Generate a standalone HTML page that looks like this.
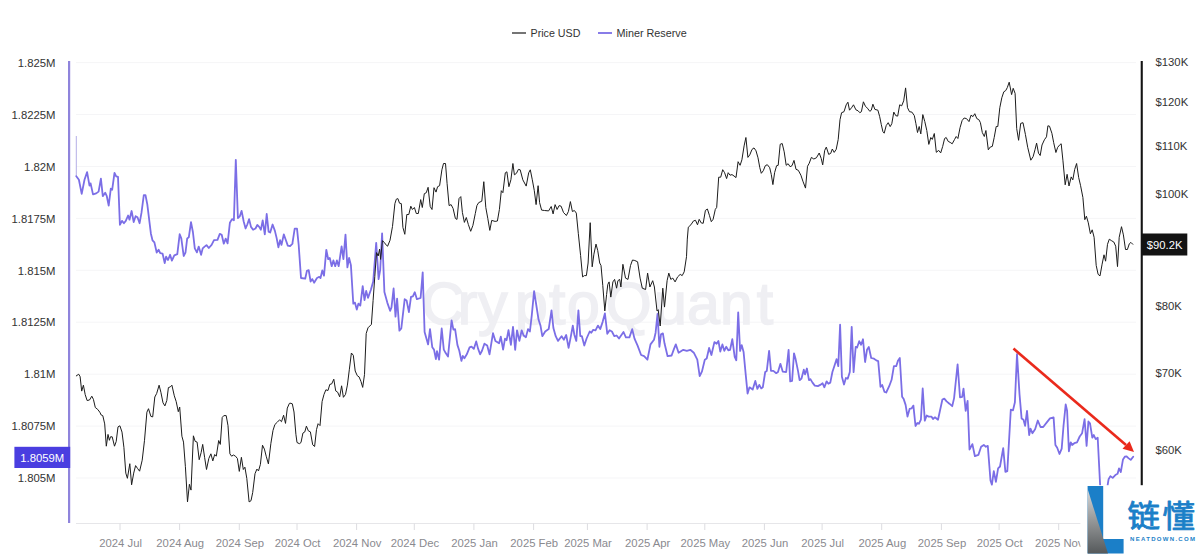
<!DOCTYPE html>
<html lang="en"><head><meta charset="utf-8"><title>Miner Reserve vs Price USD</title>
<style>html,body{margin:0;padding:0;background:#fff;}body{width:1200px;height:555px;overflow:hidden;font-family:"Liberation Sans","Noto Sans CJK SC",sans-serif;}svg{display:block;}</style>
</head><body>
<svg width="1200" height="555" viewBox="0 0 1200 555" font-family="'Liberation Sans', Arial, sans-serif">
<rect width="1200" height="555" fill="#fff"/>
<line x1="76" x2="1136" y1="62.6" y2="62.6" stroke="#f5f5f7" stroke-width="1"/>
<line x1="76" x2="1136" y1="114.5" y2="114.5" stroke="#f5f5f7" stroke-width="1"/>
<line x1="76" x2="1136" y1="166.5" y2="166.5" stroke="#f5f5f7" stroke-width="1"/>
<line x1="76" x2="1136" y1="218.4" y2="218.4" stroke="#f5f5f7" stroke-width="1"/>
<line x1="76" x2="1136" y1="270.3" y2="270.3" stroke="#f5f5f7" stroke-width="1"/>
<line x1="76" x2="1136" y1="322.2" y2="322.2" stroke="#f5f5f7" stroke-width="1"/>
<line x1="76" x2="1136" y1="374.2" y2="374.2" stroke="#f5f5f7" stroke-width="1"/>
<line x1="76" x2="1136" y1="426.1" y2="426.1" stroke="#f5f5f7" stroke-width="1"/>
<line x1="76" x2="1136" y1="478.0" y2="478.0" stroke="#f5f5f7" stroke-width="1"/>
<text x="421.5 457.7 478 515.1 549 567.1 605.8 654 687 720.1 756.8" y="324" font-size="59" fill="#efeff3" stroke="#efeff3" stroke-width="1.6">CryptoQuant</text>
<line x1="76" x2="1136" y1="523.5" y2="523.5" stroke="#e6e6e9" stroke-width="1"/>
<line x1="120.0" x2="120.0" y1="523.5" y2="530" stroke="#dcdce0" stroke-width="1"/>
<text x="120.6" y="547.3" text-anchor="middle" font-size="11.3" fill="#8a8a8f">2024 Jul</text>
<line x1="179.6" x2="179.6" y1="523.5" y2="530" stroke="#dcdce0" stroke-width="1"/>
<text x="180.2" y="547.3" text-anchor="middle" font-size="11.3" fill="#8a8a8f">2024 Aug</text>
<line x1="239.3" x2="239.3" y1="523.5" y2="530" stroke="#dcdce0" stroke-width="1"/>
<text x="239.9" y="547.3" text-anchor="middle" font-size="11.3" fill="#8a8a8f">2024 Sep</text>
<line x1="297.0" x2="297.0" y1="523.5" y2="530" stroke="#dcdce0" stroke-width="1"/>
<text x="297.6" y="547.3" text-anchor="middle" font-size="11.3" fill="#8a8a8f">2024 Oct</text>
<line x1="356.6" x2="356.6" y1="523.5" y2="530" stroke="#dcdce0" stroke-width="1"/>
<text x="357.2" y="547.3" text-anchor="middle" font-size="11.3" fill="#8a8a8f">2024 Nov</text>
<line x1="414.3" x2="414.3" y1="523.5" y2="530" stroke="#dcdce0" stroke-width="1"/>
<text x="414.9" y="547.3" text-anchor="middle" font-size="11.3" fill="#8a8a8f">2024 Dec</text>
<line x1="473.9" x2="473.9" y1="523.5" y2="530" stroke="#dcdce0" stroke-width="1"/>
<text x="474.5" y="547.3" text-anchor="middle" font-size="11.3" fill="#8a8a8f">2025 Jan</text>
<line x1="533.6" x2="533.6" y1="523.5" y2="530" stroke="#dcdce0" stroke-width="1"/>
<text x="534.2" y="547.3" text-anchor="middle" font-size="11.3" fill="#8a8a8f">2025 Feb</text>
<line x1="587.4" x2="587.4" y1="523.5" y2="530" stroke="#dcdce0" stroke-width="1"/>
<text x="588.0" y="547.3" text-anchor="middle" font-size="11.3" fill="#8a8a8f">2025 Mar</text>
<line x1="647.1" x2="647.1" y1="523.5" y2="530" stroke="#dcdce0" stroke-width="1"/>
<text x="647.7" y="547.3" text-anchor="middle" font-size="11.3" fill="#8a8a8f">2025 Apr</text>
<line x1="704.8" x2="704.8" y1="523.5" y2="530" stroke="#dcdce0" stroke-width="1"/>
<text x="705.4" y="547.3" text-anchor="middle" font-size="11.3" fill="#8a8a8f">2025 May</text>
<line x1="764.4" x2="764.4" y1="523.5" y2="530" stroke="#dcdce0" stroke-width="1"/>
<text x="765.0" y="547.3" text-anchor="middle" font-size="11.3" fill="#8a8a8f">2025 Jun</text>
<line x1="822.1" x2="822.1" y1="523.5" y2="530" stroke="#dcdce0" stroke-width="1"/>
<text x="822.7" y="547.3" text-anchor="middle" font-size="11.3" fill="#8a8a8f">2025 Jul</text>
<line x1="881.7" x2="881.7" y1="523.5" y2="530" stroke="#dcdce0" stroke-width="1"/>
<text x="882.3" y="547.3" text-anchor="middle" font-size="11.3" fill="#8a8a8f">2025 Aug</text>
<line x1="941.4" x2="941.4" y1="523.5" y2="530" stroke="#dcdce0" stroke-width="1"/>
<text x="942.0" y="547.3" text-anchor="middle" font-size="11.3" fill="#8a8a8f">2025 Sep</text>
<line x1="999.1" x2="999.1" y1="523.5" y2="530" stroke="#dcdce0" stroke-width="1"/>
<text x="999.7" y="547.3" text-anchor="middle" font-size="11.3" fill="#8a8a8f">2025 Oct</text>
<line x1="1058.7" x2="1058.7" y1="523.5" y2="530" stroke="#dcdce0" stroke-width="1"/>
<text x="1059.3" y="547.3" text-anchor="middle" font-size="11.3" fill="#8a8a8f">2025 Nov</text>
<rect x="68" y="61" width="2.2" height="462" fill="#8f84dc"/>
<rect x="1140.7" y="61" width="2.1" height="462" fill="#141414"/>
<text x="55.5" y="66.8" text-anchor="end" font-size="11.3" fill="#333">1.825M</text>
<text x="55.5" y="118.7" text-anchor="end" font-size="11.3" fill="#333">1.8225M</text>
<text x="55.5" y="170.7" text-anchor="end" font-size="11.3" fill="#333">1.82M</text>
<text x="55.5" y="222.6" text-anchor="end" font-size="11.3" fill="#333">1.8175M</text>
<text x="55.5" y="274.5" text-anchor="end" font-size="11.3" fill="#333">1.815M</text>
<text x="55.5" y="326.4" text-anchor="end" font-size="11.3" fill="#333">1.8125M</text>
<text x="55.5" y="378.4" text-anchor="end" font-size="11.3" fill="#333">1.81M</text>
<text x="55.5" y="430.3" text-anchor="end" font-size="11.3" fill="#333">1.8075M</text>
<text x="55.5" y="482.2" text-anchor="end" font-size="11.3" fill="#333">1.805M</text>
<text x="1155.5" y="66.1" font-size="11.3" fill="#333">$130K</text>
<text x="1155.5" y="106.1" font-size="11.3" fill="#333">$120K</text>
<text x="1155.5" y="150.1" font-size="11.3" fill="#333">$110K</text>
<text x="1155.5" y="197.6" font-size="11.3" fill="#333">$100K</text>
<text x="1155.5" y="310.1" font-size="11.3" fill="#333">$80K</text>
<text x="1155.5" y="377.1" font-size="11.3" fill="#333">$70K</text>
<text x="1155.5" y="454.1" font-size="11.3" fill="#333">$60K</text>
<path d="M76.3 136.0 L76.3 176.3" fill="none" stroke="#b4aee6" stroke-width="1"/>
<path d="M76.3 176.3 L78.9 179.8 L81.7 193.9 L84.5 179.8 L87.1 172.1 L89.5 185.7 L90.6 183.4 L93 194.4 L96.2 193.4 L98.6 191.6 L100.9 178.7 L102.8 196.2 L105.2 192.7 L106.8 196.2 L108.7 205.6 L110.8 188.7 L112.2 189.7 L114.5 172.8 L116.2 176.3 L118 176.8 L119.9 224.8 L122 220.9 L123.9 223.2 L125.8 220.9 L128.1 215.5 L129.5 219.7 L131.6 211 L133.7 222 L135.6 216.2 L137.5 217.3 L139.6 223.2 L141.5 212.7 L143.8 195.1 L145.5 195.1 L147.3 204.4 L150.9 233.7 L152.5 240.3 L154.4 242.4 L156.7 252.5 L158.6 249.7 L160.2 253.2 L162.6 253.7 L164.7 263 L166.1 256.7 L168 260 L170.1 254.8 L171.9 260.7 L174.3 255.3 L177.3 254.1 L179.7 234.2 L181.3 238.4 L183.7 256 L185.5 252.5 L187.2 238.4 L188.8 237.3 L191 222.2 L192.9 232 L194.8 248.4 L196.9 252.4 L198.7 246.6 L201.1 254.8 L202.7 248.4 L204.6 246.6 L206.5 245.1 L208.8 248 L211.6 244.9 L214 240.2 L217.5 239.8 L219.8 233.9 L221.7 234.8 L223.8 243.7 L225.7 238.6 L227.6 243.3 L229.9 222.7 L232 219.1 L233.9 220.3 L235.8 159.8 L237.9 218 L239.8 216.3 L241.6 210.9 L243.7 221.5 L245.6 228.5 L247.3 224.5 L249.1 219.1 L251 226.9 L253.1 229.7 L255.5 228.5 L257.3 225 L259.2 226.9 L260.9 229.7 L262.7 220.3 L264.8 234.4 L266.7 214 L268.6 231.6 L270.2 232.5 L272.6 224.5 L274.9 230.9 L276.6 237.9 L278.4 247.3 L280.1 240.2 L281.5 244.9 L283.8 234.4 L285.9 240.2 L287.8 245.6 L290.1 246.1 L292.5 243.7 L292.5 242.8 L294.7 228.7 L297 228.7 L298.7 245.2 L301 278 L305.2 278.7 L306.9 270.9 L308.7 270.2 L310.6 281.5 L312.3 279.1 L314.1 282.7 L317 278 L319.3 276.8 L320.5 278 L322.3 270.5 L324 275.6 L326.3 249.8 L328.2 259.2 L329.8 258 L331.7 266.2 L333.4 260.4 L335.2 266.2 L336.9 260.4 L338.7 266.2 L341.6 246.3 L343.4 259.2 L345.5 234.6 L347.4 267.4 L349.1 258 L350.9 265.1 L353.3 303.7 L354.9 302.6 L356.8 309.6 L358.4 303.7 L360.3 305.6 L362.7 286.2 L364.5 300.2 L366.2 290.9 L368 297.9 L370.9 289.7 L373.2 281.5 L376.2 242.8 L378.6 279.1 L380.2 269.8 L382.1 233.4 L384.4 292 L387.3 302.6 L390.1 310.8 L391.5 307.3 L393.6 288.5 L395.5 316.6 L397.1 298.6 L399.4 330.7 L401.3 328.4 L404.7 299.2 L406.6 300.4 L408.9 312.1 L411 296.9 L412.9 296.4 L414.8 292.2 L416.9 299.2 L420.6 298 L422.7 272.3 L424.6 332 L428.1 344.4 L430 329.2 L432.3 347.3 L434 349.6 L435.9 359 L437 351.2 L439.1 359.7 L441.7 328.5 L443.8 349.6 L445.7 353.1 L448 356.6 L451.6 320.3 L453.4 329.7 L455.1 329.2 L457.4 344.9 L459.3 350.8 L461.4 360.9 L462.8 355.9 L464.4 358.3 L466.8 354.3 L469.6 347.3 L471.5 346.6 L473.8 348.9 L476.2 341.4 L478 348.4 L480.1 354.3 L482 350.8 L484.4 343.7 L487.2 345.6 L489.5 354.3 L493 333.2 L495.4 340.9 L499.1 343.3 L500.8 336.7 L503.1 349.6 L505 338.6 L506.6 340.2 L508.5 330.1 L510.9 344.9 L513 326.9 L515.2 349.8 L517 330.3 L519.4 340.9 L521.7 330.3 L523.6 335.5 L525.9 337.3 L528 329.1 L529.9 331.5 L531.8 315.1 L534.1 291.2 L536.2 304.5 L538.6 319.8 L540.5 325.6 L542.3 336.2 L545.2 331.5 L548.7 329.1 L551.5 310.4 L553.4 328 L555.7 336.2 L558 340.9 L561.6 336.2 L563.9 339.7 L566.2 335 L568.6 347.9 L570.9 336.2 L572.8 325.6 L574.4 335 L576.3 340.9 L578.4 310.4 L580.3 336.2 L581.9 336.2 L584.3 345.5 L586.6 338.5 L589.7 331.5 L591.3 332.7 L593.2 329.8 L595.5 330.3 L597.9 325.6 L600.2 329.1 L602.6 322.1 L604.9 313.4 L607.3 333.8 L609.6 330.3 L611.9 331.5 L614.3 336.2 L616.6 335.5 L619 338.5 L623.5 332 L625.9 337.4 L629.4 337.4 L632.2 329.2 L634.5 338.6 L637.6 345.6 L641.1 355 L644.1 356.2 L647.4 359.7 L650.5 344.4 L654 339.8 L655.6 332.7 L657.5 314 L659.4 346.8 L661 334.4 L662.9 333.4 L664.5 343.3 L667.6 356.2 L671.6 355.5 L673.9 349.1 L675.8 344.4 L678.6 352.7 L683.3 349.8 L686.8 350.8 L690.3 349.8 L693.8 352.7 L697.3 359.7 L699.7 376.1 L702 371.4 L704.8 359.7 L706.7 358.5 L709.1 348 L711.4 355 L714.4 342.1 L716.6 343.7 L718.4 340.9 L720.3 351.5 L722.4 344.4 L724.3 350.8 L726.2 346.8 L728.3 350.3 L730.1 349.8 L732.3 339.2 L734.7 356.8 L736.3 360.3 L738.2 312.3 L740.1 350.9 L741.7 345.1 L743.6 352.1 L745.7 374.4 L747.6 393.6 L749.5 387.3 L752.7 389.6 L755.3 380.9 L757.4 388.9 L759.3 384.9 L761.2 388.4 L762.8 387.3 L765.2 372 L766.8 370.9 L769.1 350.9 L771 370.9 L773.4 370.9 L776.2 373.2 L778 372 L780.4 363.8 L782.7 371.6 L786.2 372 L788.6 349.8 L790.2 381.4 L792.1 380.9 L794 353.3 L795.6 359.1 L798 370.9 L799.6 380.2 L801.5 378.6 L803.8 369.7 L805 374.4 L806.9 368.5 L809 380.2 L810.4 379.1 L812.5 382.6 L814.8 385.6 L817.9 386.1 L820.2 384.9 L822.6 383.3 L824.4 387.3 L826.6 381.4 L828.4 383.7 L830.3 382.6 L832.4 372 L834.3 366.2 L836.6 359.1 L838.3 366.2 L840.1 324.7 L841.9 376.8 L844 384.5 L845.9 378 L847.7 378.7 L849.8 372.1 L851.7 326.9 L853.6 372.1 L855.7 346.8 L857.1 347.5 L859.2 341.2 L861.1 344.7 L863 339.3 L865.1 362 L867 349.8 L868.8 347 L871.2 358 L874 358.7 L876.3 360.4 L878.2 361.1 L880.5 386.9 L882.2 385 L884.5 392 L886.2 392.5 L889.2 386.2 L891.6 379.8 L893.9 366.2 L896.2 366.2 L898.1 360.4 L899.8 358 L902.1 396.7 L903.7 399.1 L905.6 404.9 L907.5 416.6 L909.6 408.9 L911.5 408.4 L913.4 405.6 L915.5 426 L917.3 423 L919 423.7 L920.9 419.7 L922.7 388.5 L924.8 420.6 L926.7 415.5 L928.6 416.6 L931.4 416.6 L933 419 L934.9 417.3 L938 419.7 L942.4 399.5 L944.3 398.6 L946.6 401.4 L949.4 403.7 L952.2 406.2 L954.1 398.1 L955.9 380.5 L957.6 364.3 L960 397.3 L962.2 396.8 L963.5 388.6 L965.7 410.8 L967.6 400.8 L969.5 449.5 L972.4 444.1 L974.9 456.2 L978.4 454.9 L981.1 446.8 L983.8 444.9 L985.9 446.8 L987.8 445.9 L990.5 480.5 L991.9 484.6 L993.8 471.1 L995.9 481.9 L998.1 468.4 L1000 466.5 L1003.2 448.1 L1005.4 471.9 L1007.3 471.1 L1010.8 409.7 L1013 410.3 L1014.9 402.2 L1017 354.1 L1019.5 394.1 L1021.6 418.4 L1023.5 419.7 L1025.1 425.9 L1027 410.8 L1029.2 435.1 L1030.5 428.6 L1032.4 433.2 L1035.1 429.2 L1037.8 420.5 L1040.5 427 L1043.2 427 L1046.8 422.4 L1050 418.4 L1053.6 417.4 L1055.4 445 L1057.2 447.7 L1059.5 454 L1061.7 448.6 L1063.5 426 L1065.7 404.4 L1067.1 410.7 L1068.9 451.3 L1070.7 442.3 L1072.2 445 L1074.3 443.2 L1077 442.3 L1079.7 436.5 L1082.1 433.2 L1084.6 419.2 L1086.6 445.9 L1088.4 421.5 L1090 423.3 L1092.3 437.7 L1093.8 435 L1095.6 439 L1097.7 437.7 L1100.1 484.6 L1100.8 498.1 L1104.1 505.3 L1106.9 498.1 L1107.7 484.6 L1108.6 479.2 L1110.4 476.1 L1112.7 477.9 L1115.8 474.7 L1117.6 473.8 L1119 468.4 L1120.8 472 L1123 459.4 L1124.8 456.7 L1126.6 456.3 L1128.4 458.1 L1130.7 459.9 L1133.2 456.7" fill="none" stroke="#7b6ee6" stroke-width="1.8" stroke-linejoin="round" stroke-linecap="round"/>
<path d="M76.3 375.9 L78.7 374.2 L80.1 376.6 L81.7 391.1 L83.4 385.2 L85.2 394.6 L87.1 400.5 L89.5 400 L91.8 396.2 L93.4 399.3 L95.3 407.5 L97.7 409.4 L99.8 412.2 L101.2 415 L102.8 415.7 L104.7 423.9 L106.3 446.2 L108 434.4 L109.4 440.3 L110.5 436.8 L112.2 436.8 L114.5 446.2 L116.2 441.5 L118 426.9 L119.9 425.8 L122 432.1 L123.9 447.3 L125.8 473.1 L127.4 478.3 L129.8 463.7 L131.6 484.8 L133.7 473.1 L135.6 465.6 L137.5 468.4 L139.6 471.2 L142.2 460.2 L144.5 440.3 L146.9 412.2 L148.5 408.7 L150.9 416.4 L152.7 416.9 L154.8 397 L156.7 393.4 L159.1 385.2 L160.9 392.3 L163 402.8 L164.9 405.9 L166.8 400.5 L168.4 387.6 L170.3 386.9 L171.9 385.2 L174.3 395.8 L176.2 401.6 L178.3 411.7 L179.7 407 L181.9 436.2 L183.5 442.1 L185.4 466.7 L187.5 501.9 L189.4 484.3 L191 490.1 L193.4 435.8 L195.2 441.4 L197.1 442.1 L199.2 459.7 L201.1 452.7 L202.7 444.4 L204.6 457.3 L206.5 469.5 L208.8 458.5 L210.9 453.8 L212.8 460.9 L214.7 454.5 L216.3 456.2 L218.7 440.5 L220.3 444.4 L222.2 417.5 L223.8 415.6 L226.2 415.6 L228 425.7 L229.9 453.8 L231.6 456.2 L233.4 455 L235.5 456.2 L237.4 458.5 L239.3 471.4 L241.4 457.3 L243.3 469.5 L244.9 467.2 L246.8 478.4 L249.1 501.9 L251 500.7 L252.7 492.5 L255 473.7 L256.9 469.1 L258.5 470.9 L260.4 464.4 L262.5 445.2 L264.4 449.1 L266.2 456.2 L268.4 463.9 L270.9 443.3 L273 430.4 L274.9 424.5 L277.3 422.2 L279.6 419.8 L281.5 421.7 L283.6 415.2 L285.5 423.4 L287.3 408.1 L289.4 403.4 L290 403.1 L292.3 403.8 L294 412 L295.9 434.3 L297 442.5 L299.4 443.7 L301 442.5 L302.9 433.1 L304.8 431.9 L306.4 426.1 L308.3 430.8 L310.4 431.9 L312.7 444.8 L314.6 446.5 L316.5 429.6 L318.1 423.7 L320 425.6 L322.1 401.5 L324 394.4 L325.9 389.8 L328 390.5 L329.8 384.4 L331.7 383.9 L333.8 379.2 L335.7 390.9 L337.6 392.1 L339.7 396.8 L341.6 385.8 L343.4 397.3 L345.5 394.4 L347.4 385.1 L349.3 369.8 L351.4 353 L353.3 355.3 L355.2 371 L357.3 375.7 L359.1 376.9 L361 381.6 L362.7 387.4 L364.5 374.5 L366.2 333.5 L368 327.8 L371.4 324.4 L373.1 300.4 L374.8 276.5 L376.5 252.6 L378.2 256 L379.6 249.1 L380.6 259.4 L382.4 240.6 L384.1 242.3 L386.8 245.7 L387.6 246.2 L390 240.3 L392.5 226.4 L394.9 203.6 L396.3 199.2 L397.9 198.6 L399.5 203.2 L401.3 203.6 L402.9 227.4 L404.8 234.3 L406.8 214.5 L408.8 214.5 L410.8 206.2 L412.4 209.5 L414.4 207.5 L416.3 213.5 L418.3 213.5 L420.7 199.6 L422.3 207.5 L424.3 193.7 L426.3 192.7 L428.1 187.3 L430.2 206.5 L432 209.5 L434 187.7 L436 192.1 L437.6 186.7 L439.6 185.7 L441.9 169.8 L443.5 163.5 L445.5 163.5 L447.1 183.7 L449.1 205.6 L451.1 204.6 L453.1 208.5 L455.4 218.5 L457 219.4 L459 198.6 L460.8 196.6 L462.4 212.5 L464.4 222.4 L466.3 217.5 L468.3 224.4 L470.7 231.3 L472.9 225.4 L475.3 213.5 L476.9 205.6 L478.7 202.6 L481.8 201.2 L483.8 181.7 L485.8 207.5 L487.8 218.5 L489.8 230.4 L491.7 220.4 L495.1 221.4 L497.4 221 L499.4 209.5 L501.3 190.7 L502.9 192.7 L505.3 172.8 L506.9 171.8 L508.9 186.7 L510.9 179.8 L512.9 163.5 L514.4 174.8 L516.4 173.4 L518.4 169.4 L520.2 169.8 L522.8 179.8 L526.2 186.1 L528.7 172.8 L530.3 169.8 L532.3 179.8 L534.3 190.7 L536.1 204.6 L538.1 185.7 L539.6 202.6 L541.6 210.1 L544.6 210.5 L548.6 210.9 L551.2 206.5 L553.1 213.9 L555.1 204.6 L557.1 209.5 L559.1 205.6 L561.1 206.2 L563.5 212.5 L566.4 215.5 L568.4 211.5 L570.4 201.6 L572.4 211.5 L574.4 210.5 L576.3 213.1 L578.3 233.3 L580.6 255.5 L582.6 276.9 L584.4 275.6 L586.4 275.6 L588.1 263 L590.2 222.7 L592.2 266.8 L593.9 254.2 L596 244.1 L597.7 250.4 L599.7 263 L601 265.5 L602.8 285.7 L604.8 310.9 L606.6 294.5 L607.8 284.4 L609.1 281.9 L610.8 297.1 L612.9 281.9 L614.6 279.4 L616.6 288.2 L617.9 280.7 L619.7 279.4 L620.9 287 L622.9 264.3 L625.5 278.1 L628 279.4 L630.5 265.5 L632.5 260 L634.8 260.5 L637.6 261.8 L640.1 278.1 L642.3 288.2 L645.6 289.5 L647.6 273.1 L649.9 287 L652.7 280.7 L654.4 287 L657 310.9 L658.2 309.7 L660.2 326 L662.8 288.2 L664.5 307.1 L667.1 280.7 L668.8 273.1 L670.8 279.4 L672.8 278.1 L675.1 281.9 L677.6 276.9 L680.2 274.4 L682.2 275.6 L684.2 271.8 L686.5 256.7 L687.3 239.1 L688.3 227.2 L690.9 224.8 L693.5 220.9 L695.5 220.3 L697.5 224.8 L699.2 219.3 L701.2 222.9 L703.2 223.3 L705.4 210.4 L707.4 209 L709.4 215.3 L711.3 221.7 L713.1 219.3 L715.3 209.4 L716.7 207.4 L718.7 177.2 L720.7 177.2 L722.7 169.7 L724.6 172.7 L726.6 178.6 L728.2 172.7 L730 175.2 L732 174.6 L734 176 L736 177.6 L738.1 161.7 L740.1 165.3 L741.9 159.8 L744.1 145.9 L745.9 137.5 L747.9 157.4 L749.8 154.8 L752 149.4 L754 147.9 L756 150.8 L758 157.8 L759.8 167.7 L761.3 173.3 L763.3 170.7 L765.3 165.7 L767.3 164.7 L769.7 167.7 L771.3 174.6 L772.9 184.6 L774.6 172.7 L776.6 165.7 L778.2 165.3 L780.2 144.3 L782.2 143.5 L784.2 151.8 L786.2 165.3 L788.1 163.7 L790.1 166.7 L792 165.7 L794 160.4 L796 169.3 L798.3 170.3 L800.9 175.2 L802.9 181.2 L805.5 188.1 L807.5 166.3 L809.2 163.3 L811.4 157.4 L813.8 159 L816.4 157.8 L819.2 153 L821.2 158.4 L822.7 164.9 L824.7 150.4 L826.3 147.1 L828.7 154.4 L830.7 153.4 L832.3 149 L834.2 152.4 L836.2 149.4 L838.2 139.5 L840 119.7 L841.6 112.7 L844 111.7 L846.2 104.8 L847.9 102.2 L849.5 110.2 L851.5 107.8 L853.5 104.8 L855.9 109.8 L858.1 110.8 L859.8 112.7 L861.4 111.7 L863.4 101.8 L865.4 106.2 L867.4 108.2 L869.8 111.3 L871.3 110.2 L872.9 104.2 L874.9 109.4 L877.9 110.2 L879.7 116.7 L881.3 124.6 L882.9 131.6 L884.2 133.2 L886.2 125.6 L888.2 122.7 L890.2 126.6 L891.8 123.7 L893.8 112.1 L895.8 115.7 L897.7 116.1 L899.7 104.8 L901.7 105.8 L903.7 100.8 L905.6 87.9 L907.5 107.7 L909.5 111.7 L911.9 112.1 L914.3 115.6 L915.9 123.6 L917.5 132.5 L919.2 126.5 L920.8 133.9 L922.8 114.6 L924.8 121.6 L926.8 130.5 L928.8 144.4 L930.8 137.5 L932.3 139.4 L934.3 133.5 L936.3 152.3 L938.7 150.4 L940.7 152.9 L942.7 146.4 L944.6 138.5 L946.2 137.5 L948.2 141.4 L950.2 142.4 L952.2 143.8 L954.6 139.4 L956.2 136.5 L957.9 138.5 L960.1 127.5 L962.1 120.6 L964.1 118 L966.5 118.6 L969 121.6 L971 115.2 L973 116.6 L974.8 113.7 L976.8 118.6 L978.8 119.6 L980.4 122.6 L982.3 132.5 L984.3 136.5 L985.9 130.5 L988.3 149.8 L990.3 147 L992.3 146.4 L994.2 137.5 L996.2 126.5 L997.8 126.5 L999.8 107.7 L1001.8 97.8 L1003.8 91.8 L1005.7 90.6 L1007.3 87.6 L1009.2 82.2 L1011.6 94.6 L1013.2 88.3 L1015.1 93.4 L1016.7 128.6 L1018.6 140.3 L1020.7 123.4 L1023 122.7 L1025.4 134.4 L1027.7 147.3 L1030.8 160.2 L1033.1 156.7 L1035 149.7 L1036.6 143.1 L1038.5 153.2 L1040.2 155.5 L1042 145 L1044.4 139.8 L1046.5 136.8 L1047.9 125.8 L1049.5 126.2 L1051.9 133.3 L1053.7 142.7 L1055.9 152.5 L1057.7 147.3 L1060.1 144.5 L1061.2 143.8 L1062.9 160.2 L1065.2 184.8 L1067.1 174.3 L1069 186 L1071.2 176.9 L1072.8 179.9 L1074.7 169.4 L1076.6 163.5 L1078.7 177.6 L1080.5 185.3 L1082.9 197.5 L1084.8 219.7 L1086.4 216.2 L1088.3 222.8 L1090.4 233.8 L1092.2 229.8 L1094.1 237.3 L1096.2 265.4 L1098.1 274.3 L1100 275.9 L1102.1 264.2 L1104 254.8 L1105.6 261.2 L1107.5 244.3 L1109.3 239.2 L1111.7 240.8 L1113.8 242 L1115.7 246.2 L1117.5 266.6 L1119.2 237.3 L1121.5 226.7 L1123.4 234.9 L1125.5 249.5 L1127.4 249.5 L1129.3 243.8 L1130.9 242.4 L1132.8 244.3" fill="none" stroke="#1c1c1c" stroke-width="1" stroke-linejoin="round" stroke-linecap="round"/>
<rect x="14.4" y="446.8" width="55.8" height="21.2" fill="#4a3ee0"/>
<text x="64.2" y="462.4" text-anchor="end" font-size="11.3" fill="#fff">1.8059M</text>
<rect x="1141.5" y="233.5" width="45.8" height="22" fill="#131313"/>
<text x="1146.8" y="248.9" font-size="11.25" fill="#fff">$90.2K</text>
<line x1="1013.5" y1="348.6" x2="1126" y2="445" stroke="#ea2a1c" stroke-width="2.6"/>
<polygon points="1134,452 1122.5,448.8 1129.6,441.2" fill="#ea2a1c"/>
<line x1="512" x2="526" y1="33" y2="33" stroke="#2a2a2a" stroke-width="1.3"/>
<text x="530.5" y="36.9" font-size="10.7" fill="#333">Price USD</text>
<line x1="598" x2="612" y1="33" y2="33" stroke="#7b6ee6" stroke-width="1.8"/>
<text x="616.5" y="36.9" font-size="10.8" fill="#333">Miner Reserve</text>
<rect x="1080.4" y="485.2" width="120" height="70" fill="#fff"/>
<defs><linearGradient id="gg" x1="0" y1="0" x2="0" y2="1"><stop offset="0" stop-color="#d9dadb"/><stop offset="0.45" stop-color="#9a9c9d"/><stop offset="1" stop-color="#55595b"/></linearGradient></defs>
<polygon points="1087.6,486 1103.2,486 1103.2,539 1123.6,539 1123.6,553.6 1087.6,553.6" fill="#1b7fc8"/>
<polygon points="1087.6,489 1087.6,553.6 1108,553.6" fill="url(#gg)"/>
<text transform="translate(0 527) scale(1 0.948) translate(0 -527)" x="1127.6" y="527" font-size="32.5" fill="#1b7fc8" stroke="#1b7fc8" stroke-width="0.9" stroke-linejoin="round" font-family="'Liberation Sans', 'Noto Sans CJK SC', sans-serif" textLength="67.5" lengthAdjust="spacing">链懂</text>
<text x="1130" y="541.1" font-size="6" font-weight="bold" fill="#1b7fc8" textLength="65" lengthAdjust="spacing">NEATDOWN.COM</text>
</svg>
</body></html>
